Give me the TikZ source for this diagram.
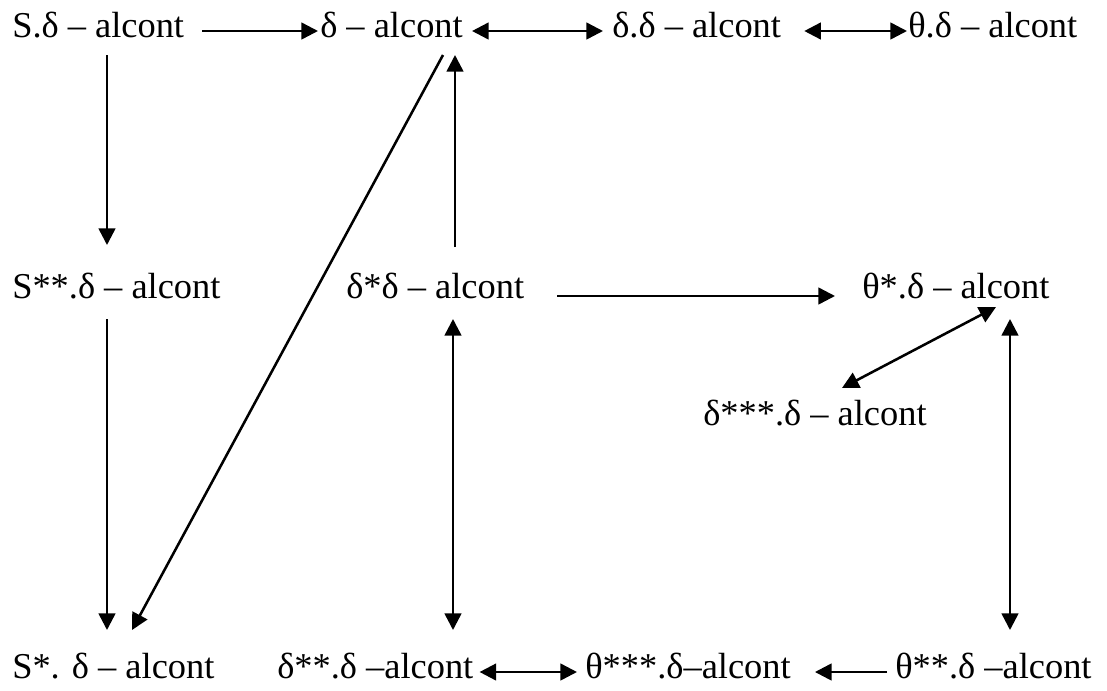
\documentclass[tikz,border=0pt]{standalone}
\usepackage{fontspec}
\setmainfont{Liberation Serif}
\usetikzlibrary{calc, arrows.meta}

\begin{document}
\begin{tikzpicture}[
        x=0.75pt, y=-0.75pt,
        term/.style={inner sep=0pt, anchor=base west, font=\fontsize{27.3}{32}\selectfont},
        arrow/.style={-{Triangle[length=12.5pt, width=12.5pt]}, line width=1.9pt},
        bidir/.style={{Triangle[length=12.5pt, width=12.5pt]}-{Triangle[length=12.5pt, width=12.5pt]}, line width=1.9pt},
    ]
    \useasboundingbox (0,0) rectangle (1107,690);

    % ===== Top row =====
    \node[term] (S1) at (12,37) {S.δ – alcont};
    \node[term] (D1) at (320,37) {δ – alcont};
    \node[term] (DD) at (612,37) {δ.δ – alcont};
    \node[term] (T1) at (908,37) {θ.δ – alcont};

    % ===== Middle row =====
    \node[term] (S2) at (12,298) {S**.δ – alcont};
    \node[term] (D2) at (346,298) {δ*δ – alcont};
    \node[term] (T2) at (862,298) {θ*.δ – alcont};
    \node[term] (D3) at (703,425) {δ***.δ – alcont};

    % ===== Bottom row =====
    \node[term] (S3) at (12,678) {S*. δ – alcont};
    \node[term] (D4) at (277,678) {δ**.δ –alcont};
    \node[term] (T3) at (585,678) {θ***.δ–alcont};
    \node[term] (T4) at (895,678) {θ**.δ –alcont};

    % ===== Horizontal arrows =====
    \draw[arrow] ($(S1.base east)+(18,-6)$) -- ($(D1.base west)+(-2,-6)$);
    \draw[bidir] ($(D1.base east)+(9,-6)$) -- ($(DD.base west)+(-9,-6)$);
    \draw[bidir] ($(DD.base east)+(23,-6)$) -- ($(T1.base west)+(-1,-6)$);
    \draw[arrow] ($(D2.base east)+(33,-2)$) -- ($(T2.base west)+(-27,-2)$);
    \draw[bidir] ($(D4.base east)+(6,-6)$) -- ($(T3.base west)+(-8,-6)$);
    \draw[arrow] ($(T4.base west)+(-8,-6)$) -- ($(T3.base east)+(24,-6)$);

    % ===== Vertical and slanted arrows =====
    \draw[arrow] ($(S1.base west)+(95,18)$) -- ($(S2.base west)+(95,-53)$);
    \draw[arrow] ($(S2.base west)+(95,21)$) -- ($(S3.base west)+(95,-48)$);
    \draw[arrow] ($(D1.base west)+(123,18)$) -- ($(S3.base west)+(120,-48)$);
    \draw[arrow] ($(D2.base west)+(109,-51)$) -- ($(D1.base west)+(135,18)$);
    \draw[bidir] ($(D2.base west)+(107,21)$) -- ($(D4.base west)+(176,-48)$);
    \draw[bidir] ($(T2.base west)+(134,9)$) -- ($(D3.base west)+(139,-37)$);
    \draw[bidir] ($(T2.base west)+(148,21)$) -- ($(T4.base west)+(115,-48)$);

\end{tikzpicture}
\end{document}
